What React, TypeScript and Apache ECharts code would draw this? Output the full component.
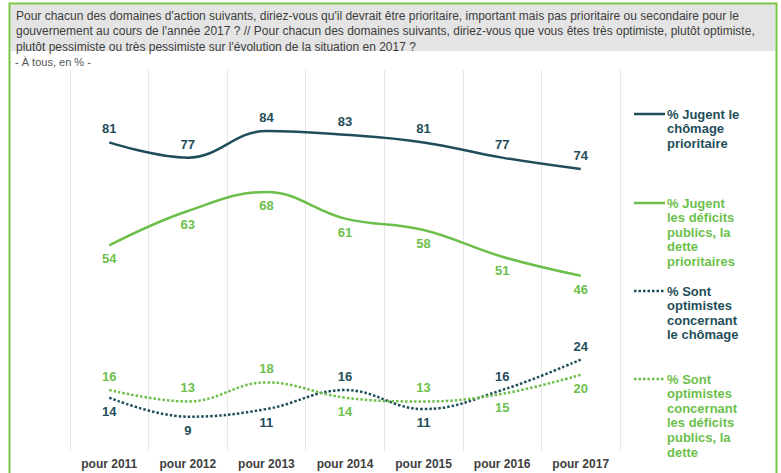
import React, { useEffect, useRef } from "react";
import * as echarts from "echarts";

const categories = ["pour 2011", "pour 2012", "pour 2013", "pour 2014", "pour 2015", "pour 2016", "pour 2017"];
const chomagePrioritaire = [81, 77, 84, 83, 81, 77, 74];
const deficitsPrioritaires = [54, 63, 68, 61, 58, 51, 46];
const optimistesChomage = [14, 9, 11, 16, 11, 16, 24];
const optimistesDeficits = [16, 13, 18, 14, 13, 15, 20];

const posChomagePrio = ["top", "top", "top", "top", "top", "top", "top"];
const posDeficitsPrio = ["bottom", "bottom", "bottom", "bottom", "bottom", "bottom", "bottom"];
const posOptChomage = ["bottom", "bottom", "bottom", "top", "bottom", "top", "top"];
const posOptDeficits = ["top", "top", "top", "bottom", "top", "bottom", "bottom"];

const seriesNames = [
  "% Jugent le chômage prioritaire",
  "% Jugent les déficits publics, la dette prioritaires",
  "% Sont optimistes concernant le chômage",
  "% Sont optimistes concernant les déficits publics, la dette",
];
const legendLines = [
  ["% Jugent le", "chômage", "prioritaire"],
  ["% Jugent", "les déficits", "publics, la", "dette", "prioritaires"],
  ["% Sont", "optimistes", "concernant", "le chômage"],
  ["% Sont", "optimistes", "concernant", "les déficits", "publics, la", "dette"],
];

const headerLines = [
  "Pour chacun des domaines d'action suivants, diriez-vous qu'il devrait être prioritaire, important mais pas prioritaire ou secondaire pour le",
  "gouvernement au cours de l'année 2017 ? // Pour chacun des domaines suivants, diriez-vous que vous êtes très optimiste, plutôt optimiste,",
  "plutôt pessimiste ou très pessimiste sur l'évolution de la situation en 2017 ?",
];
const subtitle = "- À tous, en % -";

const DARK = "#1f4e5a";
const GREEN = "#6dbf4b";
const FONT = "'Liberation Sans', Arial, sans-serif";

export default function App() {
  const ref = useRef<HTMLDivElement>(null);
  useEffect(() => {
    if (!ref.current) return;
    const chart = echarts.init(ref.current, null, { renderer: "svg" });

    const mk = (name: string, values: number[], pos: string[], color: string, dotted: boolean) => ({
      name,
      type: "line",
      smooth: 0.4,
      symbol: "circle",
      symbolSize: 0.01,
      showSymbol: true,
      data: values.map((v, i) => ({ value: v, label: { position: pos[i] } })),
      lineStyle: {
        color,
        width: 2.5,
        type: dotted ? [2.5, 2] : "solid",
        cap: "butt",
      },
      itemStyle: { color, opacity: 0 },
      label: {
        show: true,
        distance: 7,
        color,
        fontFamily: FONT,
        fontWeight: "bold",
        fontSize: 13,
        opacity: 1,
      },
      labelLayout: { hideOverlap: false },
      z: dotted ? 3 : 4,
    });

    const colors = [DARK, GREEN, DARK, GREEN];
    const dots = [false, false, true, true];
    const legendTops = [114, 203, 291, 379];
    const legendGraphics: any[] = [];
    seriesNames.forEach((_, k) => {
      legendGraphics.push({
        type: "line",
        shape: { x1: 634, y1: legendTops[k], x2: 665, y2: legendTops[k] },
        style: {
          stroke: colors[k],
          lineWidth: 2.5,
          lineDash: dots[k] ? [2.5, 2] : null,
        },
      });
      legendLines[k].forEach((t, j) => {
        legendGraphics.push({
          type: "text",
          x: 667,
          y: legendTops[k] + j * 14.6,
          style: {
            text: t,
            fill: colors[k],
            font: `bold 13px ${FONT}`,
            verticalAlign: "middle",
          },
        });
      });
    });

    const headerGraphics: any[] = [
      {
        type: "rect",
        shape: { x: 9.5, y: 3.5, width: 767, height: 480 },
        style: { fill: "none", stroke: "#7cc443", lineWidth: 2 },
        z: 10,
      },
      {
        type: "rect",
        shape: { x: 10.5, y: 4.5, width: 765, height: 46.5 },
        style: { fill: "#e4e4e4" },
      },
      ...headerLines.map((t, i) => ({
        type: "text",
        x: 16,
        y: 15.5 + i * 15.5,
        style: {
          text: t,
          fill: "#3c3c3c",
          font: `12px ${FONT}`,
          verticalAlign: "middle",
        },
      })),
      {
        type: "text",
        x: 15,
        y: 62,
        style: { text: subtitle, fill: "#555555", font: `11px ${FONT}`, verticalAlign: "middle" },
      },
    ];

    chart.setOption({
      animation: false,
      backgroundColor: "#ffffff",
      grid: { left: 70, right: 161, top: 70, bottom: 22, containLabel: false },
      xAxis: {
        type: "category",
        data: categories,
        boundaryGap: true,
        axisLine: { show: false },
        axisTick: { show: false },
        splitLine: { show: true, lineStyle: { color: "#e6e6e6", width: 1 } },
        axisLabel: {
          color: "#404040",
          fontFamily: FONT,
          fontWeight: "bold",
          fontSize: 12,
          margin: 7,
        },
      },
      yAxis: {
        type: "value",
        min: 0,
        max: 100,
        show: false,
        splitLine: { show: false },
      },
      series: [
        mk(seriesNames[0], chomagePrioritaire, posChomagePrio, DARK, false),
        mk(seriesNames[1], deficitsPrioritaires, posDeficitsPrio, GREEN, false),
        mk(seriesNames[2], optimistesChomage, posOptChomage, DARK, true),
        mk(seriesNames[3], optimistesDeficits, posOptDeficits, GREEN, true),
      ],
      graphic: [
        {
          type: "line",
          shape: { x1: 620.5, y1: 70, x2: 620.5, y2: 451 },
          style: { stroke: "#e6e6e6", lineWidth: 1 },
          silent: true,
        },
        ...headerGraphics,
        ...legendGraphics,
      ],
    });
    return () => chart.dispose();
  }, []);
  return (
    <div
      ref={ref}
      style={{ position: "fixed", left: 0, top: 0, width: 781, height: 473, background: "#fff" }}
    />
  );
}
